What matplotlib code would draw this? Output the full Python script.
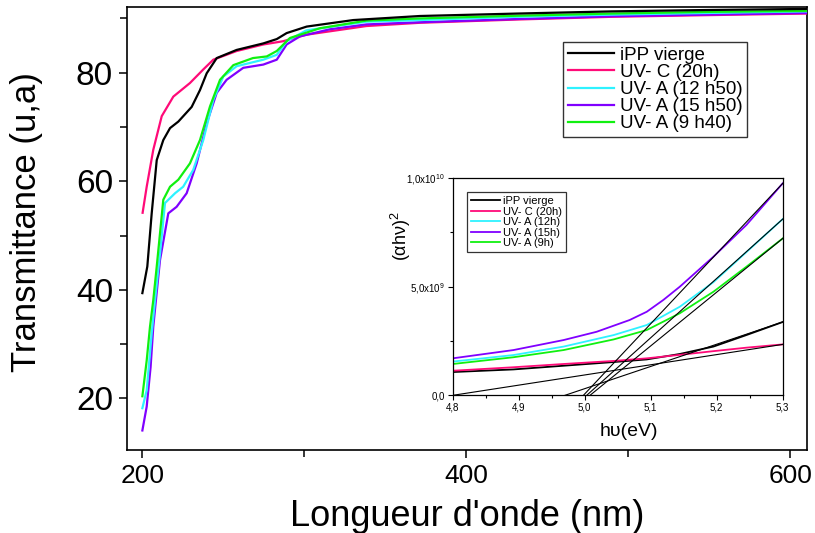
import matplotlib
matplotlib.use("Agg")
import matplotlib.pyplot as plt
from matplotlib.ticker import MultipleLocator
import numpy as np

plt.rcParams['font.family'] = ['Liberation Sans', 'DejaVu Sans']
plt.rcParams['mathtext.fontset'] = 'custom'
plt.rcParams['mathtext.rm'] = 'Liberation Sans'

# ---- main spectra: wavelength (nm) vs transmittance (u,a)
x_vierge = [200.0, 203.05, 205.76, 208.86, 212.92, 217.08, 222.2, 230.43, 235.55, 239.71,
            245.9, 258.19, 274.63, 282.95, 289.04, 301.42, 330.16, 371.36, 431.5, 489.6, 547.6, 610.0]
y_vierge = [39.4, 44.3, 54.1, 63.9, 67.6, 69.8, 71.0, 73.7, 76.8, 79.9,
            82.7, 84.2, 85.4, 86.2, 87.3, 88.5, 89.7, 90.45, 90.9, 91.3, 91.55, 91.75]

x_uvc20 = [200.15, 202.67, 206.73, 211.95, 219.11, 229.36, 237.59, 243.77, 258.19, 274.63,
           286.82, 301.13, 338.28, 371.36, 431.5, 489.6, 547.6, 610.0]
y_uvc20 = [54.2, 59.0, 65.8, 72.0, 75.6, 78.1, 80.6, 82.4, 84.0, 85.2,
           85.8, 87.0, 88.6, 89.2, 89.8, 90.3, 90.6, 90.9]

x_uva12 = [200.0, 202.67, 205.76, 207.79, 210.89, 213.98, 220.17, 225.2, 231.39, 237.59,
           243.77, 249.96, 258.19, 274.63, 282.95, 289.04, 301.13, 338.28, 371.36, 431.5, 489.6, 547.6, 610.0]
y_uva12 = [18.2, 21.5, 32.0, 38.1, 46.7, 56.0, 57.8, 59.0, 62.1, 67.6,
           75.0, 79.3, 81.2, 82.4, 83.3, 85.8, 87.8, 89.4, 89.7, 90.3, 90.7, 91.0, 91.3]

x_uva15 = [200.0, 202.67, 205.08, 206.73, 208.37, 210.89, 216.01, 221.14, 227.33, 233.52,
           239.71, 245.9, 252.0, 262.25, 274.63, 282.95, 289.04, 297.27, 315.65, 338.28, 371.36, 431.5, 489.6, 547.6, 610.0]
y_uva15 = [14.1, 18.5, 25.8, 33.2, 38.1, 45.5, 54.1, 55.3, 57.8, 63.3,
           70.7, 76.3, 78.7, 80.9, 81.5, 82.4, 85.2, 86.7, 88.0, 88.9, 89.3, 89.9, 90.4, 90.7, 91.0]

x_uva9 = [200.0, 202.67, 204.7, 206.73, 208.86, 212.92, 217.08, 222.2, 229.36, 235.55,
          241.74, 247.93, 256.16, 268.25, 276.76, 282.95, 287.01, 291.07, 309.65, 338.28, 371.36, 431.5, 489.6, 547.6, 610.0]
y_uva9 = [20.4, 27.0, 33.2, 38.1, 44.3, 56.6, 59.0, 60.3, 63.3, 67.6,
          73.8, 78.7, 81.4, 82.7, 83.0, 84.0, 85.2, 86.4, 88.2, 89.6, 90.0, 90.5, 90.9, 91.2, 91.4]

main_labels = ['iPP vierge', 'UV- C (20h)', 'UV- A (12 h50)', 'UV- A (15 h50)', 'UV- A (9 h40)']
colors = ['#000000', '#ff0a78', '#2ef2ff', '#8000ff', '#10f010']

# ---- inset: photon energy (eV) vs (alpha h nu)^2, in units of 1e9
ev_vierge = [4.8, 4.892, 4.968, 5.044, 5.094, 5.144, 5.195, 5.245, 5.3]
ah_vierge = [1.07, 1.19, 1.36, 1.53, 1.65, 1.90, 2.24, 2.77, 3.37]
ev_uvc20 = [4.8, 4.892, 4.968, 5.044, 5.094, 5.144, 5.195, 5.245, 5.3]
ah_uvc20 = [1.13, 1.29, 1.44, 1.58, 1.70, 1.86, 2.03, 2.19, 2.34]
ev_uva12 = [4.8, 4.892, 4.968, 5.044, 5.094, 5.144, 5.195, 5.245, 5.3]
ah_uva12 = [1.55, 1.85, 2.24, 2.77, 3.23, 4.07, 5.20, 6.58, 8.10]
ev_uva15 = [4.8, 4.892, 4.968, 5.018, 5.068, 5.094, 5.119, 5.144, 5.195, 5.245, 5.3]
ah_uva15 = [1.70, 2.08, 2.54, 2.92, 3.46, 3.84, 4.38, 4.99, 6.37, 7.83, 9.74]
ev_uva9 = [4.8, 4.892, 4.968, 5.044, 5.094, 5.144, 5.195, 5.245, 5.3]
ah_uva9 = [1.44, 1.75, 2.08, 2.57, 3.00, 3.77, 4.76, 5.91, 7.21]

inset_labels = ['iPP vierge', 'UV- C (20h)', 'UV- A (12h)', 'UV- A (15h)', 'UV- A (9h)']

# linear fits (start / end points) drawn as thin black lines
fit_x = [[4.970, 5.3], [4.8, 5.3], [5.003, 5.3], [4.998, 5.3], [5.008, 5.3]]
fit_y = [[0.0, 3.37], [0.0, 2.34], [0.0, 8.10], [0.0, 9.74], [0.0, 7.21]]

xticks_main = [200, 400, 600]
yticks_main = [20, 40, 60, 80]
inset_xticks = [4.8, 4.9, 5.0, 5.1, 5.2, 5.3]
inset_xticklabels = ['4,8', '4,9', '5,0', '5,1', '5,2', '5,3']
inset_yticks = [0, 5e9, 1e10]
inset_yticklabels = ['0,0', r'5,0x10$^{9}$', r'1,0x10$^{10}$']

fig = plt.figure(figsize=(8.15, 5.33), dpi=100)
ax = fig.add_axes([0.1558, 0.1557, 0.8344, 0.8311])

xs = [x_vierge, x_uvc20, x_uva12, x_uva15, x_uva9]
ys = [y_vierge, y_uvc20, y_uva12, y_uva15, y_uva9]
for i in [1, 3, 2, 4, 0]:
    ax.plot(xs[i], ys[i], color=colors[i], lw=1.6, label=main_labels[i], zorder=3 + (i == 0))

ax.set_xlim(190.5, 610.2)
ax.set_ylim(10.5, 92.1)
ax.set_xticks(xticks_main)
ax.xaxis.set_minor_locator(MultipleLocator(100))
ax.set_yticks(yticks_main)
ax.yaxis.set_minor_locator(MultipleLocator(10))
ax.tick_params(axis='both', which='both', direction='out', width=1.1)
ax.tick_params(axis='both', which='major', length=6)
ax.tick_params(axis='both', which='minor', length=5)
ax.tick_params(axis='y', labelsize=24, pad=4)
ax.tick_params(axis='x', labelsize=19, pad=4)
for s in ax.spines.values():
    s.set_linewidth(1.2)
ax.set_xlabel("Longueur d'onde (nm)", fontsize=26)
ax.xaxis.set_label_coords(0.5, -0.11)
ax.set_ylabel('Transmittance (u,a)', fontsize=25)
ax.yaxis.set_label_coords(-0.123, 0.515)

handles, labs = ax.get_legend_handles_labels()
order = [labs.index(l) for l in main_labels]
leg = ax.legend([handles[k] for k in order], [labs[k] for k in order],
                loc='upper left', bbox_to_anchor=(0.641, 0.921), borderaxespad=0,
                fontsize=13.5, frameon=True, fancybox=False, edgecolor='black',
                handlelength=2.5, handletextpad=0.3, labelspacing=0.0,
                borderpad=0.25)
leg.get_frame().set_linewidth(1.0)

# ---- inset
axi = fig.add_axes([0.5555, 0.2583, 0.4049, 0.4083])
evs = [ev_vierge, ev_uvc20, ev_uva12, ev_uva15, ev_uva9]
ahs = [ah_vierge, ah_uvc20, ah_uva12, ah_uva15, ah_uva9]
for i in range(5):
    axi.plot(evs[i], np.array(ahs[i]) * 1e9, color=colors[i], lw=1.3, label=inset_labels[i])
for fx, fy in zip(fit_x, fit_y):
    axi.plot(fx, np.array(fy) * 1e9, color='black', lw=0.8, zorder=5)

axi.set_xlim(4.8, 5.3)
axi.set_ylim(0, 1e10)
axi.set_xticks(inset_xticks)
axi.set_xticklabels(inset_xticklabels)
axi.xaxis.set_minor_locator(MultipleLocator(0.05))
axi.set_yticks(inset_yticks)
axi.set_yticklabels(inset_yticklabels)
axi.yaxis.set_minor_locator(MultipleLocator(2.5e9))
axi.tick_params(axis='both', which='both', direction='out', width=0.8, labelsize=7, pad=2)
axi.tick_params(axis='both', which='major', length=3.5)
axi.tick_params(axis='both', which='minor', length=2.5)
for s in axi.spines.values():
    s.set_linewidth(0.9)
axi.set_xlabel('hυ(eV)', fontsize=14)
axi.xaxis.set_label_coords(0.534, -0.125)
axi.set_ylabel(r'(αhν)$^{2}$', fontsize=13)
axi.yaxis.set_label_coords(-0.12, 0.73)
li = axi.legend(loc='upper left', bbox_to_anchor=(0.043, 0.934), borderaxespad=0,
                fontsize=8, frameon=True, fancybox=False, edgecolor='black',
                handlelength=2.6, handletextpad=0.3, labelspacing=0.05, borderpad=0.35)
li.get_frame().set_linewidth(0.9)

fig.savefig('out.png', dpi=100)
